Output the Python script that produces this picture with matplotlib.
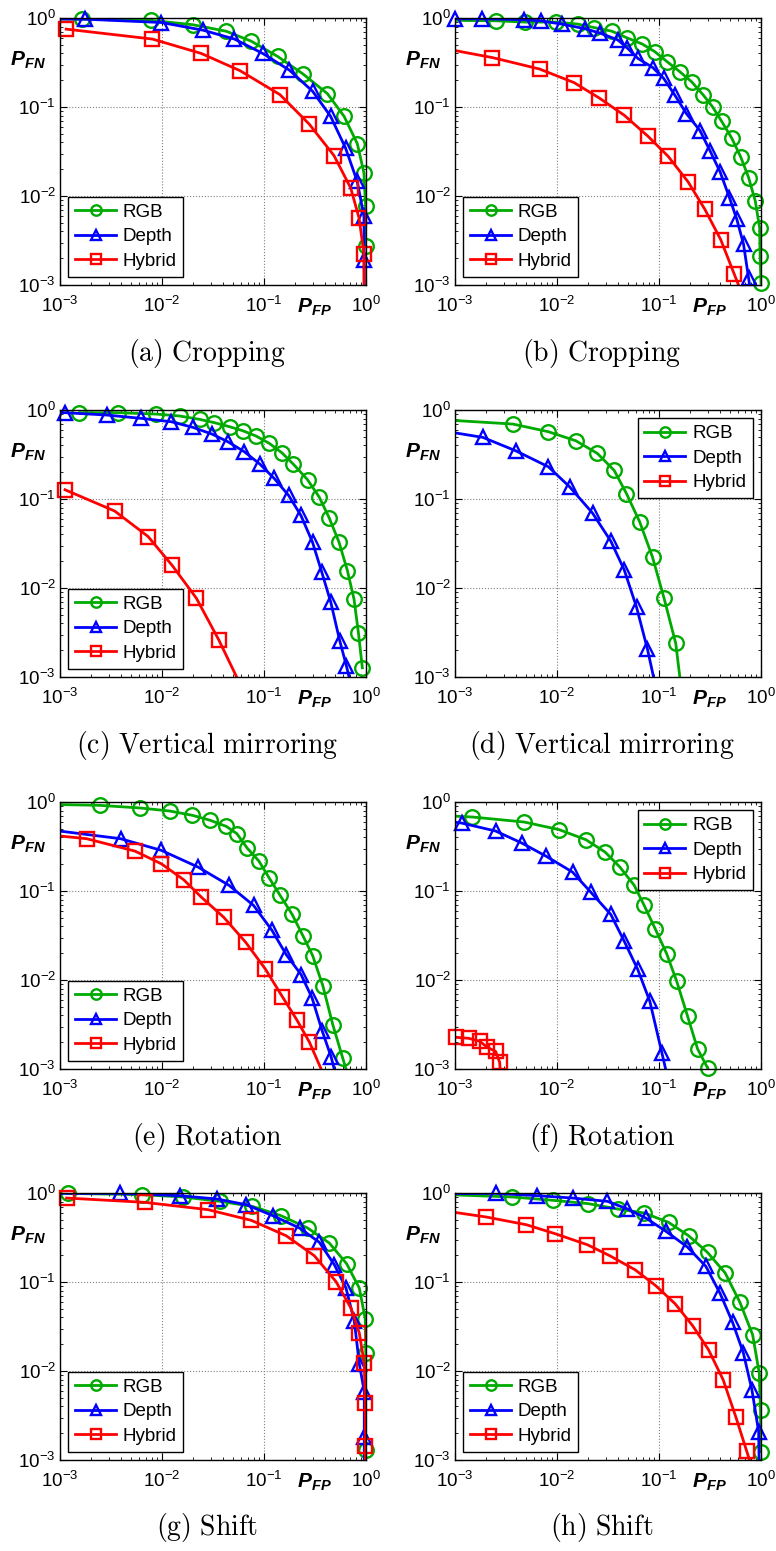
import numpy as np
import matplotlib.pyplot as plt
from matplotlib.lines import Line2D

plt.rcParams['font.family'] = ['Liberation Sans', 'DejaVu Sans']
plt.rcParams['mathtext.fontset'] = 'custom'
plt.rcParams['mathtext.rm'] = 'Liberation Sans'
plt.rcParams['mathtext.it'] = 'Liberation Sans:italic'
plt.rcParams['mathtext.bf'] = 'Liberation Sans:italic:bold'

labels = ['RGB', 'Depth', 'Hybrid']
colors = ['#00aa00', '#0000ff', '#ff0000']
markers = ['o', '^', 's']

# values (points outside [1e-3, 1] only carry the line to the frame)
a_rgb_x = [5e-4, 0.00163, 0.00787, 0.0201, 0.0426, 0.0747, 0.136, 0.239, 0.419, 0.61, 0.822, 0.955, 0.99, 0.995]
a_rgb_y = [0.98, 0.97, 0.94, 0.84, 0.71, 0.55, 0.37, 0.237, 0.141, 0.0785, 0.0387, 0.0181, 0.00766, 0.00272]
a_dep_x = [5e-4, 0.00175, 0.00985, 0.0252, 0.0513, 0.097, 0.177, 0.30, 0.45, 0.63, 0.82, 0.955, 0.96, 0.97]
a_dep_y = [0.98, 0.97, 0.89, 0.73, 0.58, 0.40, 0.26, 0.15, 0.0785, 0.0346, 0.0146, 0.0059, 0.0019, 1e-4]
a_hyb_x = [0.00115, 0.00805, 0.0242, 0.0582, 0.143, 0.277, 0.486, 0.708, 0.855, 0.955, 0.96]
a_hyb_y = [0.75, 0.58, 0.40, 0.256, 0.138, 0.0644, 0.0284, 0.0123, 0.00566, 0.00225, 1e-4]

b_rgb_x = [5e-4, 0.00252, 0.00491, 0.0097, 0.0159, 0.0232, 0.0346, 0.0483, 0.0685, 0.0906, 0.12, 0.16,
           0.209, 0.272, 0.336, 0.412, 0.517, 0.635, 0.756, 0.879, 0.97, 0.98, 1.0]
b_rgb_y = [0.95, 0.93, 0.90, 0.90, 0.855, 0.78, 0.71, 0.60, 0.51, 0.42, 0.323, 0.249,
           0.192, 0.136, 0.1, 0.0688, 0.0446, 0.0272, 0.0161, 0.00877, 0.00438, 0.0021, 0.00105]
b_dep_x = [0.001, 0.00183, 0.00472, 0.0069, 0.0111, 0.0189, 0.0264, 0.0394, 0.0483, 0.062, 0.087, 0.111,
           0.143, 0.186, 0.252, 0.316, 0.397, 0.491, 0.58, 0.674, 0.756, 1.04]
b_dep_y = [0.98, 0.98, 0.957, 0.93, 0.855, 0.757, 0.676, 0.568, 0.466, 0.352, 0.277, 0.21,
           0.136, 0.084, 0.0544, 0.0323, 0.0187, 0.00957, 0.00545, 0.00288, 0.00119, 1e-4]
b_hyb_x = [5e-4, 0.00233, 0.00675, 0.0147, 0.026, 0.0458, 0.0778, 0.123, 0.193, 0.282, 0.403, 0.546, 1.32]
b_hyb_y = [0.5, 0.359, 0.267, 0.188, 0.126, 0.0805, 0.047, 0.0279, 0.0144, 0.00706, 0.00323, 0.00133, 1e-4]

c_rgb_x = [0.00155, 0.00372, 0.00881, 0.0149, 0.0234, 0.0327, 0.0459, 0.0619, 0.0836, 0.113, 0.15,
           0.194, 0.267, 0.348, 0.435, 0.544, 0.657, 0.763, 0.842, 0.921]
c_rgb_y = [0.933, 0.933, 0.90, 0.856, 0.785, 0.72, 0.649, 0.585, 0.51, 0.421, 0.33,
           0.246, 0.165, 0.105, 0.0616, 0.0327, 0.0157, 0.0075, 0.00316, 0.00127]
c_dep_x = [5e-4, 0.00112, 0.00286, 0.00628, 0.0123, 0.0201, 0.031, 0.0442, 0.0643, 0.0914, 0.126,
           0.174, 0.23, 0.299, 0.369, 0.452, 0.553, 0.643, 1.1]
c_dep_y = [0.95, 0.933, 0.878, 0.805, 0.738, 0.638, 0.536, 0.44, 0.339, 0.246, 0.17,
           0.11, 0.0654, 0.0327, 0.015, 0.00689, 0.00255, 0.00133, 1e-4]
c_hyb_x = [0.00112, 0.00344, 0.0073, 0.0126, 0.0217, 0.0361, 0.142]
c_hyb_y = [0.127, 0.0732, 0.0379, 0.0179, 0.0077, 0.0026, 1e-4]

d_rgb_x = [5e-4, 0.0037, 0.00824, 0.0153, 0.0249, 0.0363, 0.048, 0.0648, 0.0864, 0.112, 0.146, 0.204]
d_rgb_y = [0.80, 0.695, 0.57, 0.451, 0.325, 0.21, 0.115, 0.055, 0.0222, 0.0077, 0.00238, 1e-4]
d_dep_x = [5e-4, 0.00188, 0.00394, 0.00824, 0.0133, 0.0223, 0.0337, 0.0456, 0.0603, 0.0771, 0.137]
d_dep_y = [0.63, 0.492, 0.348, 0.23, 0.137, 0.0695, 0.0336, 0.016, 0.00606, 0.00205, 1e-4]
d_hyb_x = []
d_hyb_y = []

e_rgb_x = [5e-4, 0.00246, 0.00615, 0.0119, 0.0199, 0.0298, 0.0427, 0.0543, 0.068, 0.0891, 0.112,
           0.144, 0.189, 0.24, 0.3, 0.377, 0.472, 0.591, 1.16]
e_rgb_y = [0.95, 0.917, 0.856, 0.792, 0.708, 0.622, 0.532, 0.44, 0.306, 0.217, 0.141,
           0.0891, 0.0545, 0.0316, 0.0188, 0.00866, 0.00316, 0.00133, 1e-4]
e_dep_x = [5e-4, 0.00392, 0.00986, 0.0225, 0.0453, 0.0791, 0.12, 0.165, 0.231, 0.296, 0.371, 0.454, 0.82]
e_dep_y = [0.52, 0.387, 0.286, 0.186, 0.116, 0.0688, 0.036, 0.0193, 0.0115, 0.00629, 0.0027, 0.00138, 1e-4]
e_hyb_x = [5e-4, 0.00182, 0.00542, 0.00986, 0.0163, 0.0243, 0.0402, 0.066, 0.103, 0.151, 0.21, 0.279, 0.87]
e_hyb_y = [0.45, 0.387, 0.281, 0.202, 0.134, 0.0853, 0.0508, 0.0266, 0.0133, 0.00652, 0.00356, 0.002, 1e-4]

f_rgb_x = [5e-4, 0.00148, 0.00475, 0.0105, 0.0192, 0.0296, 0.0413, 0.0571, 0.0716, 0.0918, 0.119,
           0.149, 0.191, 0.239, 0.299]
f_rgb_y = [0.72, 0.678, 0.596, 0.489, 0.377, 0.274, 0.186, 0.116, 0.0688, 0.0376, 0.0197,
           0.0097, 0.00389, 0.00168, 0.00103]
f_dep_x = [5e-4, 0.00116, 0.0025, 0.00451, 0.00787, 0.0142, 0.0214, 0.0337, 0.0456, 0.0616, 0.0813, 0.107, 0.185]
f_dep_y = [0.65, 0.58, 0.472, 0.346, 0.245, 0.163, 0.0972, 0.0545, 0.0273, 0.0133, 0.00577, 0.0015, 1e-4]
f_hyb_x = [0.00103, 0.00137, 0.00175, 0.00207, 0.0025, 0.00274, 0.0029]
f_hyb_y = [0.00227, 0.00221, 0.00205, 0.00175, 0.00158, 0.00119, 5e-4]

g_rgb_x = [0.00121, 0.0063, 0.0161, 0.0367, 0.0767, 0.147, 0.268, 0.437, 0.647, 0.86, 0.984, 0.995, 0.995]
g_rgb_y = [0.99, 0.958, 0.902, 0.806, 0.708, 0.556, 0.404, 0.274, 0.16, 0.0853, 0.0383, 0.0158, 0.0013]
g_dep_x = [5e-4, 0.00387, 0.0149, 0.0346, 0.067, 0.122, 0.223, 0.349, 0.49, 0.637, 0.769, 0.86, 0.962, 0.962, 0.965]
g_dep_y = [0.99, 0.99, 0.933, 0.856, 0.739, 0.556, 0.404, 0.279, 0.156, 0.0853, 0.036, 0.012, 0.00587, 0.0018, 1e-4]
g_hyb_x = [0.00116, 0.00678, 0.0282, 0.075, 0.165, 0.312, 0.508, 0.713, 0.86, 0.962, 0.984, 0.984, 0.985]
g_hyb_y = [0.878, 0.785, 0.65, 0.493, 0.331, 0.197, 0.101, 0.0508, 0.0266, 0.0122, 0.00434, 0.00144, 1e-4]

h_rgb_x = [5e-4, 0.00366, 0.00916, 0.0203, 0.0392, 0.0716, 0.124, 0.195, 0.299, 0.446, 0.622, 0.828, 0.962, 0.99, 0.995]
h_rgb_y = [0.98, 0.902, 0.827, 0.759, 0.661, 0.596, 0.468, 0.331, 0.215, 0.126, 0.0589, 0.0255, 0.00945, 0.00366, 0.00124]
h_dep_x = [5e-4, 0.0025, 0.00643, 0.0142, 0.0312, 0.0491, 0.0743, 0.117, 0.19, 0.288, 0.396, 0.527, 0.67, 0.815, 0.948, 0.99]
h_dep_y = [0.98, 0.99, 0.933, 0.878, 0.806, 0.661, 0.523, 0.371, 0.247, 0.15, 0.075, 0.0351, 0.0161, 0.00613, 0.00209, 1e-4]
h_hyb_x = [5e-4, 0.00203, 0.00501, 0.00957, 0.0199, 0.033, 0.0584, 0.0931, 0.144, 0.214, 0.306, 0.426, 0.568, 0.722, 1.47]
h_hyb_y = [0.68, 0.537, 0.44, 0.349, 0.262, 0.197, 0.137, 0.0907, 0.0569, 0.0322, 0.0173, 0.00794, 0.00302, 0.00127, 1e-4]

panels = [
    ('(a) Cropping', [(a_rgb_x, a_rgb_y), (a_dep_x, a_dep_y), (a_hyb_x, a_hyb_y)], 'lower left'),
    ('(b) Cropping', [(b_rgb_x, b_rgb_y), (b_dep_x, b_dep_y), (b_hyb_x, b_hyb_y)], 'lower left'),
    ('(c) Vertical mirroring', [(c_rgb_x, c_rgb_y), (c_dep_x, c_dep_y), (c_hyb_x, c_hyb_y)], 'lower left'),
    ('(d) Vertical mirroring', [(d_rgb_x, d_rgb_y), (d_dep_x, d_dep_y), (d_hyb_x, d_hyb_y)], 'upper right'),
    ('(e) Rotation', [(e_rgb_x, e_rgb_y), (e_dep_x, e_dep_y), (e_hyb_x, e_hyb_y)], 'lower left'),
    ('(f) Rotation', [(f_rgb_x, f_rgb_y), (f_dep_x, f_dep_y), (f_hyb_x, f_hyb_y)], 'upper right'),
    ('(g) Shift', [(g_rgb_x, g_rgb_y), (g_dep_x, g_dep_y), (g_hyb_x, g_hyb_y)], 'lower left'),
    ('(h) Shift', [(h_rgb_x, h_rgb_y), (h_dep_x, h_dep_y), (h_hyb_x, h_hyb_y)], 'lower left'),
]

W, H = 776, 1551
fig = plt.figure(figsize=(W / 100, H / 100), dpi=100)

col_left = [60, 455]
row_top = [18, 410, 802, 1193]
aw, ah = 306, 267

lw, ms, mew = 2.0, 10.5, 1.7

for i, (caption, series, loc) in enumerate(panels):
    r, c = divmod(i, 2)
    left, top = col_left[c], row_top[r]
    ax = fig.add_axes([left / W, 1 - (top + ah) / H, aw / W, ah / H])
    ax.set_xscale('log')
    ax.set_yscale('log')

    for (xs, ys), col, mk in zip(series, colors, markers):
        xs = np.array(xs, dtype=float)
        ys = np.array(ys, dtype=float)
        if len(xs) == 0:
            continue
        ax.plot(xs, ys, color=col, lw=lw)
        inside = (xs >= 0.9999e-3) & (xs <= 1.0001) & (ys >= 0.9999e-3) & (ys <= 1.0001)
        ax.plot(xs[inside], ys[inside], ls='none', marker=mk, ms=ms, mfc='none',
                mec=col, mew=mew, clip_on=False)

    ax.set_xlim(1e-3, 1)
    ax.set_ylim(1e-3, 1)
    ax.grid(True, which='major', ls=':', color='0.5', lw=0.8)
    ax.tick_params(which='both', direction='in', top=True, right=True, labelsize=13.5)
    ax.tick_params(which='major', length=5)
    ax.tick_params(axis='x', which='major', pad=8)
    ax.tick_params(axis='y', which='major', pad=3)
    ax.tick_params(which='minor', length=2.5)
    for sp in ax.spines.values():
        sp.set_linewidth(1.0)

    handles = [Line2D([0], [0], color=col, lw=lw, marker=mk, ms=7.5, mfc='none', mec=col, mew=mew)
               for col, mk in zip(colors, markers)]
    leg = ax.legend(handles, labels, loc=loc, fontsize=13.5, fancybox=False, framealpha=1,
                    edgecolor='black', handlelength=2.2, handletextpad=0.35, labelspacing=0.4,
                    borderpad=0.35, borderaxespad=0.45)
    leg.get_frame().set_linewidth(1.0)

    ax.text(-0.165, 0.84, r'$\mathbf{P}_{\mathbf{FN}}$', transform=ax.transAxes,
            fontsize=15, ha='left', va='center')
    ax.text(0.775, -0.085, r'$\mathbf{P}_{\mathbf{FP}}$', transform=ax.transAxes,
            fontsize=15, ha='left', va='center')

    fig.text((left + 147) / W, 1 - (top + ah + 68) / H, r'$\mathrm{' + caption.replace(' ', r'\ ') + '}$',
             math_fontfamily='cm', fontsize=20, ha='center', va='center')

fig.savefig('out.png', dpi=100)
